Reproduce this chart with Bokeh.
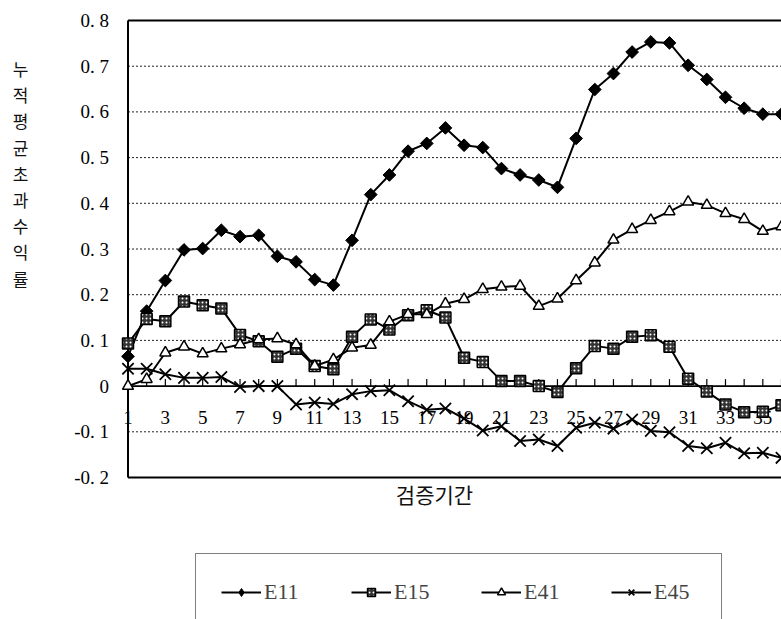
import math
from bokeh.plotting import figure
from bokeh.models import Range1d, Label, Legend, LegendItem, ColumnDataSource
from bokeh.embed import file_html
from bokeh.resources import INLINE
from bokeh.core.properties import value

# ---------------- data ----------------
periods = list(range(1, 37))
e11 = [0.065, 0.164, 0.231, 0.298, 0.301, 0.341, 0.327, 0.330, 0.284, 0.272,
       0.233, 0.221, 0.319, 0.419, 0.462, 0.514, 0.531, 0.565, 0.527, 0.522,
       0.476, 0.462, 0.451, 0.435, 0.542, 0.649, 0.684, 0.731, 0.753, 0.751,
       0.702, 0.671, 0.632, 0.608, 0.595, 0.595]
e15 = [0.093, 0.147, 0.142, 0.185, 0.177, 0.170, 0.112, 0.098, 0.064, 0.082,
       0.044, 0.037, 0.108, 0.146, 0.124, 0.155, 0.166, 0.150, 0.062, 0.053,
       0.011, 0.011, 0.000, -0.013, 0.039, 0.088, 0.082, 0.108, 0.111, 0.086,
       0.016, -0.012, -0.040, -0.057, -0.056, -0.042]
e41 = [0.000, 0.015, 0.073, 0.086, 0.071, 0.082, 0.091, 0.102, 0.104, 0.091,
       0.044, 0.058, 0.084, 0.090, 0.141, 0.157, 0.157, 0.180, 0.190, 0.212,
       0.217, 0.219, 0.175, 0.191, 0.231, 0.270, 0.320, 0.343, 0.363, 0.382,
       0.403, 0.396, 0.378, 0.365, 0.339, 0.349]
e45 = [0.038, 0.038, 0.026, 0.018, 0.018, 0.020, -0.002, 0.000, 0.000, -0.040,
       -0.036, -0.039, -0.018, -0.011, -0.009, -0.033, -0.052, -0.049, -0.071, -0.097,
       -0.088, -0.120, -0.117, -0.131, -0.091, -0.080, -0.093, -0.073, -0.098, -0.101,
       -0.131, -0.136, -0.124, -0.147, -0.146, -0.157]
series_names = ["E11", "E15", "E41", "E45"]
y_ticks = [-0.2, -0.1, 0.0, 0.1, 0.2, 0.3, 0.4, 0.5, 0.6, 0.7, 0.8]
y_tick_labels = ["-0. 2", "-0. 1", "0", "0. 1", "0. 2", "0. 3", "0. 4", "0. 5", "0. 6", "0. 7", "0. 8"]
x_tick_values = [n for n in periods if n % 2 == 1]
x_tick_labels = [str(n) for n in x_tick_values]
y_title = "누적평균초과수익률"
x_title = "검증기간"

# ---------------- layout geometry (pixels) ----------------
W, H = 781, 619
PL, PT, PB = 127.5, 20.0, 477.0      # plot-area left, top, bottom in pixels
XMIN, XMAX = 1, 36                   # category span of plot area (right edge cut by window)
YMIN, YMAX = -0.2, 0.8

ux = (W - PL) / (XMAX - XMIN)        # pixels per period
uy = (PB - PT) / (YMAX - YMIN)       # pixels per unit

x_lo = XMIN - PL / ux
y_hi = YMAX + PT / uy
y_lo = YMIN - (H - PB) / uy

p = figure(width=W, height=H, x_range=Range1d(x_lo, XMAX), y_range=Range1d(y_lo, y_hi),
           min_border=0, x_axis_location=None, y_axis_location=None,
           output_backend="svg", toolbar_location=None)
p.outline_line_color = None
p.grid.visible = False
p.background_fill_color = "white"
p.border_fill_color = "white"


def px_x(px):
    return x_lo + px / ux


def px_y(py):
    return y_hi - py / uy


serif = "Liberation Serif"
kr = "Noto Sans CJK KR"

# dotted gridlines
grid_vals = [t for t in y_ticks if t not in (YMIN, YMAX, 0.0)]
p.segment(x0=[XMIN] * len(grid_vals), y0=grid_vals, x1=[XMAX] * len(grid_vals), y1=grid_vals,
          line_color="#222222", line_dash="2 2", line_width=1)

# frame: top, bottom, left
p.segment(x0=[XMIN, XMIN], y0=[YMAX, YMIN], x1=[XMAX, XMAX], y1=[YMAX, YMIN],
          line_color="black", line_width=2)
p.segment(x0=[XMIN], y0=[YMIN], x1=[XMIN], y1=[YMAX], line_color="black", line_width=2)

# zero axis with upward ticks
p.segment(x0=[XMIN], y0=[0], x1=[XMAX], y1=[0], line_color="black", line_width=1.6)
tick_len = 7 / uy
p.segment(x0=periods, y0=[0] * len(periods), x1=periods, y1=[tick_len] * len(periods),
          line_color="black", line_width=1.2)

# tick labels
p.text(x=x_tick_values, y=[0] * len(x_tick_values), text=x_tick_labels,
       text_font=value(serif), text_font_size="19px", text_align="center",
       text_baseline="middle", y_offset=31, text_color="black")
p.text(x=[XMIN] * len(y_ticks), y=y_ticks, text=y_tick_labels,
       text_font=value(serif), text_font_size="19px", text_align="right",
       text_baseline="middle", x_offset=-19, text_color="black")

# series
src = ColumnDataSource(dict(x=periods, e11=e11, e15=e15, e41=e41, e45=e45))
lw = 2
l1 = p.line("x", "e11", source=src, line_color="black", line_width=lw)
# plain diamond (hidden under the rotated square; used for the legend swatch)
k1 = p.scatter("x", "e11", source=src, marker="diamond", size=11,
               fill_color="black", line_color="black")
p.scatter("x", "e11", source=src, marker="square", angle=math.pi / 4, size=9,
          fill_color="black", line_color="black")
l2 = p.line("x", "e15", source=src, line_color="black", line_width=lw)
s2 = p.scatter("x", "e15", source=src, marker="square", size=11, fill_color="#333333",
               line_color="black", line_width=1.5, hatch_pattern=".", hatch_color="white",
               hatch_scale=4)
l3 = p.line("x", "e41", source=src, line_color="black", line_width=lw)
s3 = p.scatter("x", "e41", source=src, marker="triangle", size=11, fill_color="white",
               line_color="black", line_width=1.5)
l4 = p.line("x", "e45", source=src, line_color="black", line_width=lw)
s4 = p.scatter("x", "e45", source=src, marker="x", size=16, line_color="black", line_width=1.8)

# titles
for i, ch in enumerate(y_title):
    p.add_layout(Label(x=px_x(20), y=px_y(68 + 26.2 * i), text=ch, text_font=kr,
                       text_font_size="17px", text_align="center", text_baseline="middle",
                       text_color="#111111"))
p.add_layout(Label(x=px_x(434), y=px_y(493), text=x_title, text_font=kr,
                   text_font_size="21px", text_align="center", text_baseline="middle",
                   text_color="#111111"))

# legend
items = [LegendItem(label=series_names[0], renderers=[l1, k1]),
         LegendItem(label=series_names[1], renderers=[l2, s2]),
         LegendItem(label=series_names[2], renderers=[l3, s3]),
         LegendItem(label=series_names[3], renderers=[l4, s4])]
legend = Legend(items=items, orientation="horizontal", location=(195, -12),
                padding=25, spacing=45, glyph_width=40, glyph_height=20,
                label_width=42, label_standoff=3,
                label_text_font=serif, label_text_font_size="22px",
                label_text_font_style="normal",
                border_line_color="black", border_line_width=1,
                background_fill_color="white", background_fill_alpha=1.0,
                margin=0)
p.add_layout(legend)

open("out.html", "w").write(file_html(p, INLINE))
